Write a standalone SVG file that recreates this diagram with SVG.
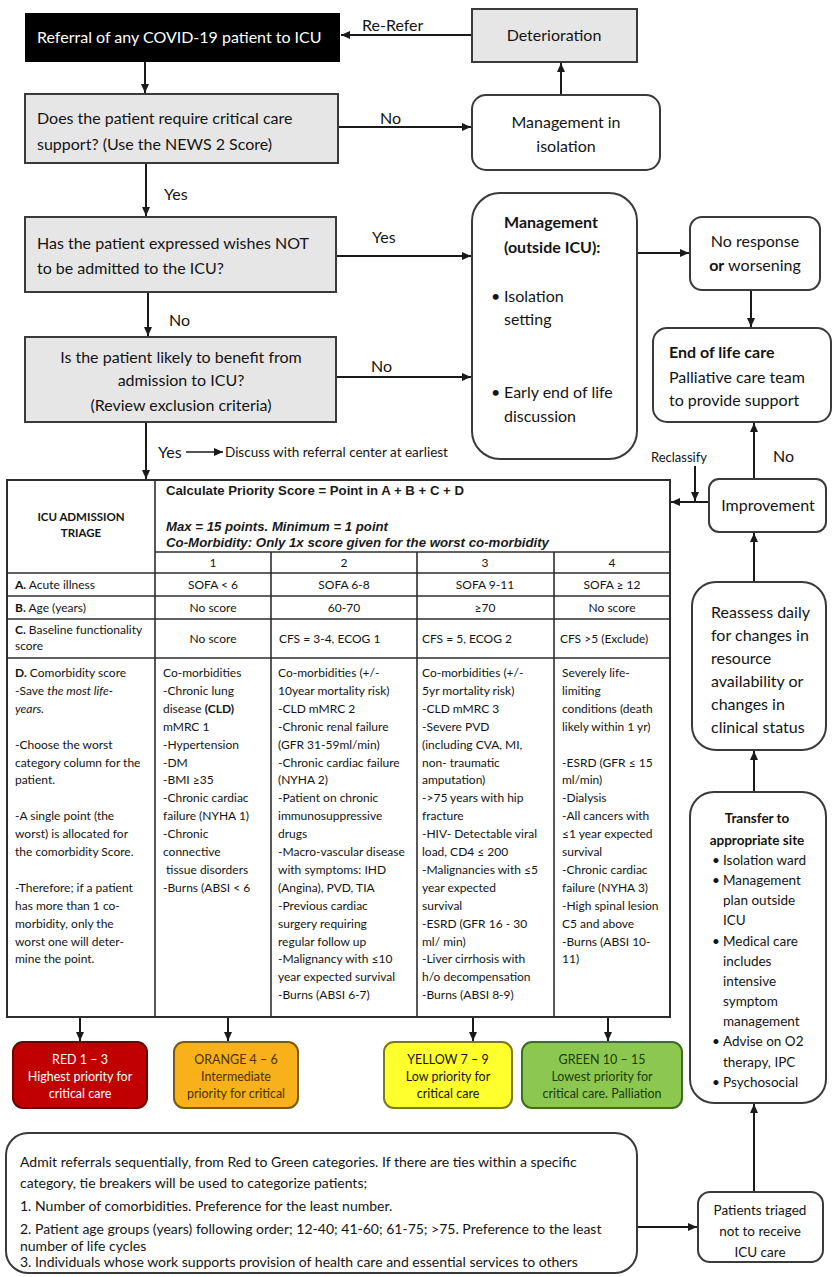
<svg xmlns="http://www.w3.org/2000/svg" width="833" height="1277" viewBox="0 0 833 1277">
<defs>
<marker id="ah" markerWidth="9" markerHeight="8" refX="9" refY="4" orient="auto" markerUnits="userSpaceOnUse">
<path d="M0,0 L9,4 L0,8 z" fill="#1a1a1a"/>
</marker>
<style>
.t{font-family:Lato,'Liberation Sans',sans-serif;fill:#141414}
.f16{font-size:16px}
.f13{font-size:13.5px}
.f12{font-size:12px}
.b{font-weight:bold}
.i{font-style:italic}
.c{text-anchor:middle}
.gray{fill:#e7e6e6;stroke:#3a3a3a;stroke-width:2}
.rnd{fill:#ffffff;stroke:#3a3a3a;stroke-width:2}
.conn line{stroke:#1a1a1a;stroke-width:2;fill:none}
.arr{marker-end:url(#ah)}
.tb{stroke:#2e2e2e;stroke-width:1.6;fill:none}
.hd{font-family:'Liberation Sans',Arial,sans-serif;font-weight:bold;font-size:12.5px;fill:#1a1a1a}
</style>
</defs>
<rect width="833" height="1277" fill="#ffffff"/>

<g id="connectors" class="conn">
<line class="arr" x1="472" y1="35" x2="341" y2="35"/>
<line class="arr" x1="145" y1="62" x2="145" y2="93"/>
<line class="arr" x1="338" y1="127" x2="471" y2="127"/>
<line class="arr" x1="561" y1="95" x2="561" y2="63"/>
<line class="arr" x1="146" y1="163" x2="146" y2="216"/>
<line class="arr" x1="336" y1="256" x2="471" y2="256"/>
<line class="arr" x1="148" y1="292" x2="148" y2="336"/>
<line class="arr" x1="336" y1="377" x2="471" y2="377"/>
<line class="arr" x1="637" y1="253" x2="689" y2="253"/>
<line class="arr" x1="751" y1="290" x2="751" y2="327"/>
<line class="arr" x1="146" y1="422" x2="146" y2="479"/>
<line class="arr" x1="186" y1="452" x2="223" y2="452" style="stroke-width:1.5"/>
<line class="arr" x1="754" y1="479" x2="754" y2="423"/>
<line class="arr" x1="709" y1="502" x2="671" y2="502"/>
<line class="arr" x1="695" y1="466" x2="695" y2="501"/>
<line class="arr" x1="754" y1="582" x2="754" y2="533"/>
<line class="arr" x1="754" y1="792" x2="754" y2="751"/>
<line class="arr" x1="754" y1="1192" x2="754" y2="1104"/>
<line class="arr" x1="637" y1="1227" x2="697" y2="1227"/>
<line class="arr" x1="80" y1="1017" x2="80" y2="1041"/>
<line class="arr" x1="228" y1="1017" x2="228" y2="1041"/>
<line class="arr" x1="473" y1="1017" x2="473" y2="1041"/>
<line class="arr" x1="608" y1="1017" x2="608" y2="1041"/>
<text class="t f16" x="362" y="31">Re-Refer</text>
<text class="t f16" x="380" y="124">No</text>
<text class="t f16" x="164" y="200">Yes</text>
<text class="t f16" x="372" y="243">Yes</text>
<text class="t f16" x="169" y="326">No</text>
<text class="t f16" x="371" y="372">No</text>
<text class="t f16" x="158" y="458">Yes</text>
<text class="t" x="225" y="457" style="font-size:13.5px">Discuss with referral center at earliest</text>
<text class="t" x="651" y="462" style="font-size:13px">Reclassify</text>
<text class="t f16" x="773" y="462">No</text>
</g>

<g id="n-referral">
<rect x="25" y="13" width="315" height="49" fill="#000000"/>
<text class="t f16" x="37" y="43" style="fill:#ffffff">Referral of any COVID-19 patient to ICU</text>
</g>

<g id="n-deterioration">
<rect class="gray" x="472" y="9" width="165" height="53"/>
<text class="t f16 c" x="554" y="41">Deterioration</text>
</g>

<g id="n-does">
<rect class="gray" x="25" y="94" width="313" height="69"/>
<text class="t f16" x="37" y="124">Does the patient require critical care</text>
<text class="t f16" x="37" y="150">support? (Use the NEWS 2 Score)</text>
</g>

<g id="n-mgmt-iso">
<rect class="rnd" x="472" y="95" width="188" height="75" rx="14"/>
<text class="t f16 c" x="566" y="128">Management in</text>
<text class="t f16 c" x="566" y="152">isolation</text>
</g>

<g id="n-has">
<rect class="gray" x="25" y="217" width="311" height="75"/>
<text class="t f16" x="37" y="249">Has the patient expressed wishes NOT</text>
<text class="t f16" x="37" y="274">to be admitted to the ICU?</text>
</g>

<g id="n-mgmt-out">
<rect class="rnd" x="472" y="193" width="165" height="266" rx="28"/>
<text class="t f16 b" x="504" y="228">Management</text>
<text class="t f16 b" x="504" y="253">(outside ICU):</text>
<text class="t f16" x="491" y="302">•</text>
<text class="t f16" x="504" y="302">Isolation</text>
<text class="t f16" x="504" y="325">setting</text>
<text class="t f16" x="491" y="398">•</text>
<text class="t f16" x="504" y="398">Early end of life</text>
<text class="t f16" x="504" y="422">discussion</text>
</g>

<g id="n-noresp">
<rect class="rnd" x="690" y="217" width="130" height="73" rx="12"/>
<text class="t f16 c" x="755" y="247">No response</text>
<text class="t f16 c" x="755" y="271"><tspan class="b">or</tspan> worsening</text>
</g>

<g id="n-eol">
<rect class="rnd" x="653" y="328" width="178" height="94" rx="14"/>
<text class="t f16 b" x="669" y="358">End of life care</text>
<text class="t f16" x="669" y="383">Palliative care team</text>
<text class="t f16" x="669" y="406">to provide support</text>
</g>

<g id="n-is">
<rect class="gray" x="25" y="337" width="311" height="85"/>
<text class="t f16 c" x="181" y="363">Is the patient likely to benefit from</text>
<text class="t f16 c" x="181" y="386">admission to ICU?</text>
<text class="t f16 c" x="181" y="411">(Review exclusion criteria)</text>
</g>

<g id="n-table">
<rect class="tb" x="7" y="480" width="663" height="537" style="stroke-width:2"/>
<line class="tb" x1="155" y1="480" x2="155" y2="1017"/>
<line class="tb" x1="155" y1="552" x2="670" y2="552"/>
<line class="tb" x1="7" y1="573" x2="670" y2="573"/>
<line class="tb" x1="7" y1="596" x2="670" y2="596"/>
<line class="tb" x1="7" y1="619" x2="670" y2="619"/>
<line class="tb" x1="7" y1="658" x2="670" y2="658"/>
<line class="tb" x1="271" y1="552" x2="271" y2="1017"/>
<line class="tb" x1="417" y1="552" x2="417" y2="1017"/>
<line class="tb" x1="554" y1="552" x2="554" y2="1017"/>
<text class="t b c" x="81" y="521" style="font-size:11.5px">ICU ADMISSION</text>
<text class="t b c" x="81" y="537" style="font-size:11.5px">TRIAGE</text>
<text class="hd" x="166" y="495" textLength="298" lengthAdjust="spacingAndGlyphs">Calculate Priority Score = Point in A + B + C + D</text>
<text class="hd" x="166" y="531" font-style="italic" textLength="222" lengthAdjust="spacingAndGlyphs">Max = 15 points. Minimum = 1 point</text>
<text class="hd" x="166" y="547" font-style="italic" textLength="383" lengthAdjust="spacingAndGlyphs">Co-Morbidity: Only 1x score given for the worst co-morbidity</text>
<g class="t f12 c">
<text x="213" y="567">1</text>
<text x="344" y="567">2</text>
<text x="485" y="567">3</text>
<text x="612" y="567">4</text>
<text x="213" y="589">SOFA &lt; 6</text>
<text x="344" y="589">SOFA 6-8</text>
<text x="485" y="589">SOFA 9-11</text>
<text x="612" y="589">SOFA ≥ 12</text>
<text x="213" y="612">No score</text>
<text x="344" y="612">60-70</text>
<text x="485" y="612">≥70</text>
<text x="612" y="612">No score</text>
<text x="213" y="643">No score</text>
</g>
<g class="t f12">
<text x="15" y="589"><tspan class="b">A.</tspan> Acute illness</text>
<text x="15" y="612"><tspan class="b">B.</tspan> Age (years)</text>
<text x="15" y="634"><tspan class="b">C.</tspan> Baseline functionality</text>
<text x="15" y="650">score</text>
<text x="279" y="643">CFS = 3-4, ECOG 1</text>
<text x="422" y="643">CFS = 5, ECOG 2</text>
<text x="560" y="643">CFS &gt;5 (Exclude)</text>
</g>
<g class="t f12">
<text x="15" y="677"><tspan class="b">D.</tspan> Comorbidity score</text>
<text x="15" y="694.9">-Save <tspan class="i">the most life-</tspan></text>
<text x="15" y="712.8" class="i">years.</text>
<text x="15" y="748.6">-Choose the worst</text>
<text x="15" y="766.5">category column for the</text>
<text x="15" y="784.4">patient.</text>
<text x="15" y="820.2">-A single point (the</text>
<text x="15" y="838.1">worst) is allocated for</text>
<text x="15" y="856">the comorbidity Score.</text>
<text x="15" y="891.8">-Therefore; if a patient</text>
<text x="15" y="909.7">has more than 1 co-</text>
<text x="15" y="927.6">morbidity, only the</text>
<text x="15" y="945.5">worst one will deter-</text>
<text x="15" y="963.4">mine the point.</text>

<text x="163" y="677">Co-morbidities</text>
<text x="163" y="694.9">-Chronic lung</text>
<text x="163" y="712.8">disease <tspan class="b">(CLD)</tspan></text>
<text x="163" y="730.7">mMRC 1</text>
<text x="163" y="748.6">-Hypertension</text>
<text x="163" y="766.5">-DM</text>
<text x="163" y="784.4">-BMI ≥35</text>
<text x="163" y="802.3">-Chronic cardiac</text>
<text x="163" y="820.2">failure (NYHA 1)</text>
<text x="163" y="838.1">-Chronic</text>
<text x="163" y="856">connective</text>
<text x="166" y="873.9">tissue disorders</text>
<text x="163" y="891.8">-Burns (ABSI &lt; 6</text>

<text x="278" y="677">Co-morbidities (+/-</text>
<text x="278" y="694.9">10year mortality risk)</text>
<text x="278" y="712.8">-CLD mMRC 2</text>
<text x="278" y="730.7">-Chronic renal failure</text>
<text x="278" y="748.6">(GFR 31-59ml/min)</text>
<text x="278" y="766.5">-Chronic cardiac failure</text>
<text x="278" y="784.4">(NYHA 2)</text>
<text x="278" y="802.3">-Patient on chronic</text>
<text x="278" y="820.2">immunosuppressive</text>
<text x="278" y="838.1">drugs</text>
<text x="278" y="856">-Macro-vascular disease</text>
<text x="278" y="873.9">with symptoms: IHD</text>
<text x="278" y="891.8">(Angina), PVD, TIA</text>
<text x="278" y="909.7">-Previous cardiac</text>
<text x="278" y="927.6">surgery requiring</text>
<text x="278" y="945.5">regular follow up</text>
<text x="278" y="963.4">-Malignancy with ≤10</text>
<text x="278" y="981.3">year expected survival</text>
<text x="278" y="999.2">-Burns (ABSI 6-7)</text>

<text x="422" y="677">Co-morbidities (+/-</text>
<text x="422" y="694.9">5yr mortality risk)</text>
<text x="422" y="712.8">-CLD mMRC 3</text>
<text x="422" y="730.7">-Severe PVD</text>
<text x="422" y="748.6">(including CVA, MI,</text>
<text x="422" y="766.5">non- traumatic</text>
<text x="422" y="784.4">amputation)</text>
<text x="422" y="802.3">-&gt;75 years with hip</text>
<text x="422" y="820.2">fracture</text>
<text x="422" y="838.1">-HIV- Detectable viral</text>
<text x="422" y="856">load, CD4 ≤ 200</text>
<text x="422" y="873.9">-Malignancies with ≤5</text>
<text x="422" y="891.8">year expected</text>
<text x="422" y="909.7">survival</text>
<text x="422" y="927.6">-ESRD (GFR 16 - 30</text>
<text x="422" y="945.5">ml/ min)</text>
<text x="422" y="963.4">-Liver cirrhosis with</text>
<text x="422" y="981.3">h/o decompensation</text>
<text x="422" y="999.2">-Burns (ABSI 8-9)</text>

<text x="562" y="677">Severely life-</text>
<text x="562" y="694.9">limiting</text>
<text x="562" y="712.8">conditions (death</text>
<text x="562" y="730.7">likely within 1 yr)</text>
<text x="562" y="766.5">-ESRD (GFR ≤ 15</text>
<text x="562" y="784.4">ml/min)</text>
<text x="562" y="802.3">-Dialysis</text>
<text x="562" y="820.2">-All cancers with</text>
<text x="562" y="838.1">≤1 year expected</text>
<text x="562" y="856">survival</text>
<text x="562" y="873.9">-Chronic cardiac</text>
<text x="562" y="891.8">failure (NYHA 3)</text>
<text x="562" y="909.7">-High spinal lesion</text>
<text x="562" y="927.6">C5 and above</text>
<text x="562" y="945.5">-Burns (ABSI 10-</text>
<text x="562" y="963.4">11)</text>
</g>
</g>

<g id="n-improvement">
<rect class="rnd" x="709" y="479" width="117" height="53" rx="10"/>
<text class="t f16 c" x="768" y="511">Improvement</text>
</g>

<g id="n-reassess">
<rect class="rnd" x="692" y="582" width="134" height="168" rx="24"/>
<text class="t f16" x="711" y="618">Reassess daily</text>
<text class="t f16" x="711" y="641">for changes in</text>
<text class="t f16" x="711" y="664">resource</text>
<text class="t f16" x="711" y="687">availability or</text>
<text class="t f16" x="711" y="710">changes in</text>
<text class="t f16" x="711" y="733">clinical status</text>
</g>

<g id="n-transfer">
<rect class="rnd" x="690" y="792" width="136" height="311" rx="24"/>
<text class="t f13 b c" x="757" y="823">Transfer to</text>
<text class="t f13 b c" x="757" y="845">appropriate site</text>
<g class="t f13">
<text x="712" y="865">•</text><text x="723" y="865">Isolation ward</text>
<text x="712" y="885">•</text><text x="723" y="885">Management</text>
<text x="723" y="905">plan outside</text>
<text x="723" y="925">ICU</text>
<text x="712" y="946">•</text><text x="723" y="946">Medical care</text>
<text x="723" y="966">includes</text>
<text x="723" y="986">intensive</text>
<text x="723" y="1006">symptom</text>
<text x="723" y="1026">management</text>
<text x="712" y="1046">•</text><text x="723" y="1046">Advise on O2</text>
<text x="723" y="1067">therapy, IPC</text>
<text x="712" y="1087">•</text><text x="723" y="1087">Psychosocial</text>
</g>
</g>

<g id="n-red">
<rect x="13" y="1042" width="134" height="66" rx="10" fill="#c00000" stroke="#6e0000" stroke-width="2"/>
<g class="t c" style="font-size:12.5px">
<text x="80" y="1064" style="fill:#ffffff">RED 1 – 3</text>
<text x="80" y="1081" style="fill:#ffffff">Highest priority for</text>
<text x="80" y="1098" style="fill:#ffffff">critical care</text>
</g>
</g>

<g id="n-orange">
<rect x="174" y="1042" width="124" height="66" rx="10" fill="#f8b11a" stroke="#7a5a10" stroke-width="2"/>
<g class="t c" style="font-size:12.5px">
<text x="236" y="1064" style="fill:#4a3200">ORANGE 4 – 6</text>
<text x="236" y="1081" style="fill:#4a3200">Intermediate</text>
<text x="236" y="1098" style="fill:#4a3200">priority for critical</text>
</g>
</g>

<g id="n-yellow">
<rect x="384" y="1042" width="128" height="66" rx="10" fill="#ffff2e" stroke="#7a7a20" stroke-width="2"/>
<g class="t c" style="font-size:12.5px">
<text x="448" y="1064">YELLOW 7 – 9</text>
<text x="448" y="1081">Low priority for</text>
<text x="448" y="1098">critical care</text>
</g>
</g>

<g id="n-green">
<rect x="522" y="1042" width="160" height="66" rx="10" fill="#8cc850" stroke="#3f6b22" stroke-width="2"/>
<g class="t c" style="font-size:12.5px">
<text x="602" y="1064" style="fill:#1c3a0c">GREEN 10 – 15</text>
<text x="602" y="1081" style="fill:#1c3a0c">Lowest priority for</text>
<text x="602" y="1098" style="fill:#1c3a0c">critical care. Palliation</text>
</g>
</g>

<g id="n-tiebreak">
<rect class="rnd" x="6" y="1133" width="631" height="140" rx="22"/>
<g class="t" style="font-size:14px">
<text x="20" y="1167">Admit referrals sequentially, from Red to Green categories. If there are ties within a specific</text>
<text x="20" y="1188">category, tie breakers will be used to categorize patients;</text>
<text x="20" y="1211">1. Number of comorbidities. Preference for the least number.</text>
<text x="20" y="1234">2. Patient age groups (years) following order; 12-40; 41-60; 61-75; &gt;75. Preference to the least</text>
<text x="20" y="1251">number of life cycles</text>
<text x="20" y="1267">3. Individuals whose work supports provision of health care and essential services to others</text>
</g>
</g>

<g id="n-patients">
<rect class="rnd" x="698" y="1192" width="125" height="70" rx="12"/>
<g class="t c" style="font-size:13.5px">
<text x="760" y="1215">Patients triaged</text>
<text x="760" y="1236">not to receive</text>
<text x="760" y="1257">ICU care</text>
</g>
</g>
</svg>
